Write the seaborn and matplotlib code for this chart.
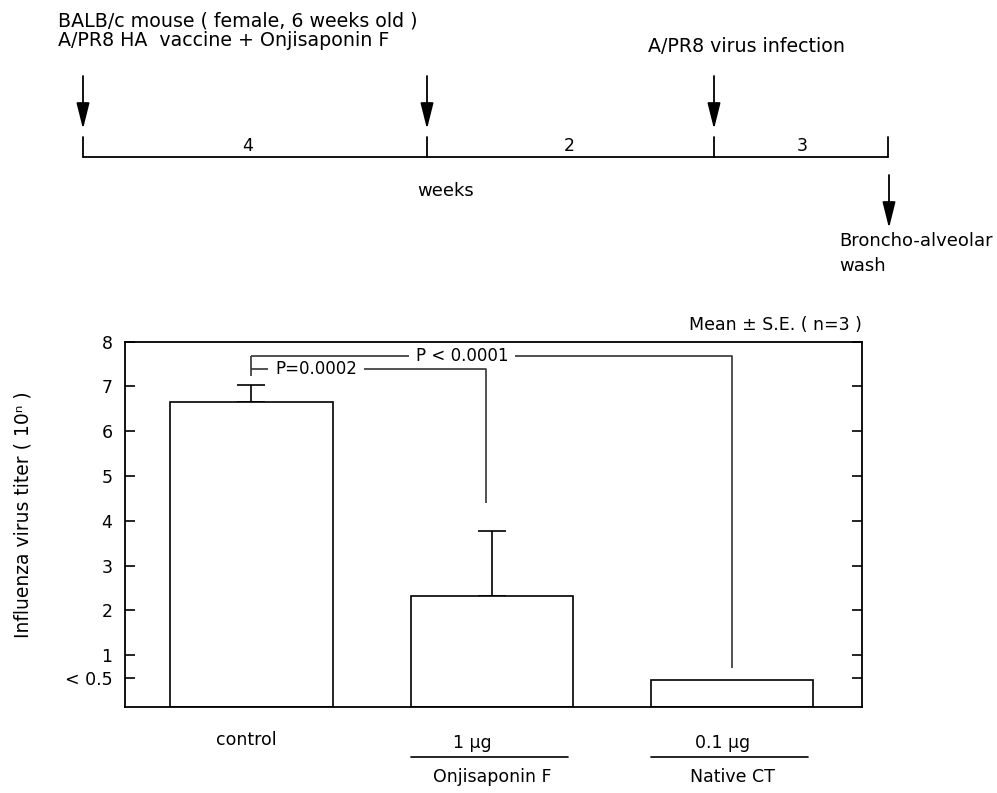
import matplotlib
matplotlib.use("Agg")
import matplotlib.pyplot as plt
import numpy as np
import pandas as pd
import seaborn as sns

# data
groups = ["control", "Onjisaponin F", "Native CT"]
doses = ["control", "1 µg", "0.1 µg"]
group_names = ["", "Onjisaponin F", "Native CT"]
titer_mean = [6.65, 2.33, 0.45]
titer_se = [0.38, 1.45, 0.0]
y_ticks = [0.5, 1, 2, 3, 4, 5, 6, 7, 8]
y_tick_labels = ["< 0.5", "1", "2", "3", "4", "5", "6", "7", "8"]
p_labels = ["P=0.0002", "P < 0.0001"]
timeline_weeks = ["4", "2", "3"]

# layout of the schematic (figure pixels, not data)
tl_x = [83, 427, 714, 888]
tl_mid = [248, 569, 802]
tl_y = 157

sns.set_style("white")
plt.rcParams["font.family"] = ["DejaVu Sans"]
plt.rcParams["text.color"] = "black"
plt.rcParams["ytick.color"] = "black"
plt.rcParams["xtick.color"] = "black"

W, H = 997, 793
fig = plt.figure(figsize=(W / 100, H / 100), dpi=100)

ax_l, ax_r, ax_t, ax_b = 125, 862, 341.7, 706.7
ax = fig.add_axes([ax_l / W, 1 - ax_b / H, (ax_r - ax_l) / W, (ax_b - ax_t) / H])

ymin = -0.15
df = pd.DataFrame({"group": groups, "titer": titer_mean})
sns.barplot(data=df, x="group", y="titer", color="white", edgecolor="black",
            linewidth=1.2, width=0.675, errorbar=None, ax=ax, zorder=2)
# bars rest on the axis floor (values below 0.5 are truncated)
for p in ax.patches:
    p.set_height(p.get_y() + p.get_height() - ymin)
    p.set_y(ymin)

idx = [i for i, e in enumerate(titer_se) if e > 0]
ax.errorbar(idx, [titer_mean[i] for i in idx],
            yerr=[[0] * len(idx), [titer_se[i] for i in idx]],
            fmt="none", ecolor="black", elinewidth=1.2, capsize=10, capthick=1.2, zorder=1)

ax.set_xlim(-0.526, 2.54)
ax.set_ylim(ymin, 8.0)
ax.set_yticks(y_ticks)
ax.set_yticklabels(y_tick_labels)
ax.set_xticks([])
ax.set_xlabel("")
ax.set_ylabel("")
ax.tick_params(axis="y", direction="in", length=7, width=1.2, left=True, right=True,
               labelsize=12.5, pad=9)
for s in ax.spines.values():
    s.set_visible(True)
    s.set_linewidth(1.3)
    s.set_color("black")

# significance brackets: line broken around the label
lk = dict(color="#333333", lw=1.2, solid_capstyle="butt")
brackets = [
    # (left x, right x, height, drop to, label x, label)
    (0, 0.975, 7.39, 4.4, 0.27, p_labels[0]),
    (0, 2.0, 7.69, 0.72, 0.875, p_labels[1]),
]
ax.plot([0, 0], [7.24, 7.69], **lk)
fig.canvas.draw()
rend = fig.canvas.get_renderer()
inv = ax.transData.inverted()
for x0, x1, yb, ye, xt, lab in brackets:
    t = ax.text(xt, yb, lab, ha="center", va="center", fontsize=12)
    ext = t.get_window_extent(rend)
    ga = inv.transform((ext.x0 - 7, 0))[0]
    gb = inv.transform((ext.x1 + 7, 0))[0]
    ax.plot([x0, ga], [yb, yb], **lk)
    ax.plot([gb, x1, x1], [yb, yb, ye], **lk)

ax.text(1.0, 1.045, "Mean ± S.E. ( n=3 )", transform=ax.transAxes,
        ha="right", va="center", fontsize=12.5)

# x labels
tr = ax.get_xaxis_transform()
dose_off = [-0.02, -0.08, -0.04]
dose_y = [-0.091, -0.0995, -0.0995]
for i, d in enumerate(doses):
    ax.text(i + dose_off[i], dose_y[i], d, transform=tr, ha="center", va="center", fontsize=12.5)
    if group_names[i]:
        ax.plot([i - 0.337, i + 0.315], [-0.138, -0.138], transform=tr, color="black",
                lw=1.2, clip_on=False)
        ax.text(i, -0.193, group_names[i], transform=tr, ha="center", va="center", fontsize=12.5)

# overlay for the timeline schematic and y label
ov = fig.add_axes([0, 0, 1, 1])
ov.set_xlim(0, W)
ov.set_ylim(H, 0)
ov.axis("off")
ov.patch.set_alpha(0)

ov.plot([tl_x[0], tl_x[-1]], [tl_y, tl_y], color="black", lw=1.3)
for x in tl_x:
    ov.plot([x, x], [tl_y - 20, tl_y], color="black", lw=1.3)
for k, w in enumerate(timeline_weeks):
    ov.text(tl_mid[k], 146, w, ha="center", va="center", fontsize=12.5)

ak = dict(arrowstyle="-|>,head_length=0.8,head_width=0.2", color="black", lw=1.3,
          mutation_scale=20, shrinkA=0, shrinkB=0)
for x in tl_x[:3]:
    ov.annotate("", xy=(x, 129), xytext=(x, 76), arrowprops=ak)
ov.annotate("", xy=(889, 228), xytext=(889, 175), arrowprops=ak)

ov.text(58, 21, "BALB/c mouse ( female, 6 weeks old )", ha="left", va="center", fontsize=13.7)
ov.text(58, 40, "A/PR8 HA  vaccine + Onjisaponin F", ha="left", va="center", fontsize=13.7)
ov.text(746, 46, "A/PR8 virus infection", ha="center", va="center", fontsize=13.7)
ov.text(446, 191, "weeks", ha="center", va="center", fontsize=13)
ov.text(839, 241, "Broncho-alveolar", ha="left", va="center", fontsize=13)
ov.text(839, 266, "wash", ha="left", va="center", fontsize=13)

ov.text(23, 515, "Influenza virus titer ( 10ⁿ )", rotation=90, ha="center", va="center",
        fontsize=13.5)

fig.savefig("out.png", dpi=100, facecolor="white")
